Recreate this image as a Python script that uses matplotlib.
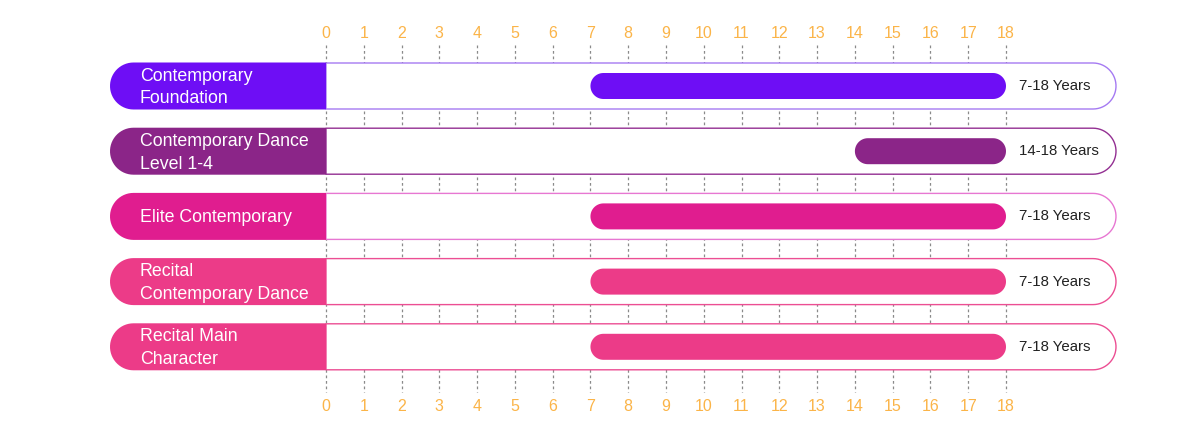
import numpy as np
import matplotlib
matplotlib.use("Agg")
import matplotlib.pyplot as plt
from matplotlib.path import Path
from matplotlib.patches import PathPatch

plt.rcParams['font.family'] = ['Liberation Sans', 'DejaVu Sans']

# ---- data ----
programs = ["Contemporary\nFoundation", "Contemporary Dance\nLevel 1-4",
            "Elite Contemporary", "Recital\nContemporary Dance",
            "Recital Main\nCharacter"]
start_age = [7, 14, 7, 7, 7]
end_age = [18, 18, 18, 18, 18]
range_labels = ["7-18 Years", "14-18 Years", "7-18 Years", "7-18 Years", "7-18 Years"]
ticks = list(range(0, 19))

fill_colors = ["#6E0EF5", "#8B2588", "#E01D8F", "#EC3B88", "#EC3B88"]
border_colors = ["#A57AF2", "#932F92", "#E777D2", "#EC4E93", "#EC4E93"]
tick_color = "#FBB448"

W, H, DPI = 1200, 436, 100
fig = plt.figure(figsize=(W / DPI, H / DPI), dpi=DPI)
ax = fig.add_axes([0, 0, 1, 1])
ax.axis("off")

# scales: 0 -> 326px, 18 -> 1006px ; row i center -> 86 + 65*i px (from top)
px0, px18 = 326.0, 1006.0
sx = (px18 - px0) / 18.0
row_top, row_step = 86.0, 65.2
ax.set_xlim(-px0 / sx, (W - px0) / sx)
ax.set_ylim((H - row_top) / row_step, -row_top / row_step)
sy = row_step


def pill(x0, x1, yc, h_px, round_left, round_right):
    r = h_px / 2.0
    rx, ry = r / sx, r / sy
    hy = ry
    verts = []
    if round_right:
        cx = x1 - rx
        for a in np.linspace(-np.pi / 2, np.pi / 2, 30):
            verts.append((cx + rx * np.cos(a), yc + ry * np.sin(a)))
    else:
        verts += [(x1, yc - hy), (x1, yc + hy)]
    if round_left:
        cx = x0 + rx
        for a in np.linspace(np.pi / 2, 3 * np.pi / 2, 30):
            verts.append((cx + rx * np.cos(a), yc + ry * np.sin(a)))
    else:
        verts += [(x0, yc + hy), (x0, yc - hy)]
    verts.append(verts[0])
    codes = [Path.MOVETO] + [Path.LINETO] * (len(verts) - 2) + [Path.CLOSEPOLY]
    return Path(verts, codes)


# dashed grid lines
y_top_grid = (45 - row_top) / row_step
y_bot_grid = (392 - row_top) / row_step
for t in ticks:
    ax.plot([t, t], [y_top_grid, y_bot_grid], color="#8a8a8a", lw=0.9,
            ls=(0, (2.2, 2.2)), zorder=1)
    ax.text(t, (33 - row_top) / row_step, str(t), color=tick_color, fontsize=11.5,
            ha="center", va="center", zorder=5)
    ax.text(t, (406 - row_top) / row_step, str(t), color=tick_color, fontsize=11.5,
            ha="center", va="center", zorder=5)

label_left = (110 - px0) / sx
box_right = (1116 - px0) / sx
text_x = (140 - px0) / sx
range_x = (1019 - px0) / sx
text_dy = 1.5 / row_step

for i, name in enumerate(programs):
    yc = i
    ax.add_patch(PathPatch(pill(0, box_right, yc, 46, False, True),
                           facecolor="white", edgecolor=border_colors[i],
                           lw=1.0, zorder=2))
    ax.add_patch(PathPatch(pill(label_left, 0, yc, 47, True, False),
                           facecolor=fill_colors[i], edgecolor="none", zorder=3))
    ax.text(text_x, yc + text_dy, name, color="white", fontsize=12.8, ha="left",
            va="center", linespacing=1.45, zorder=4)
    ax.add_patch(PathPatch(pill(start_age[i], end_age[i], yc, 26, True, True),
                           facecolor=fill_colors[i], edgecolor="none", zorder=3))
    ax.text(range_x, yc, range_labels[i], color="#222222", fontsize=10.8,
            ha="left", va="center", zorder=4)

fig.savefig("out.png", dpi=DPI, facecolor="white")
